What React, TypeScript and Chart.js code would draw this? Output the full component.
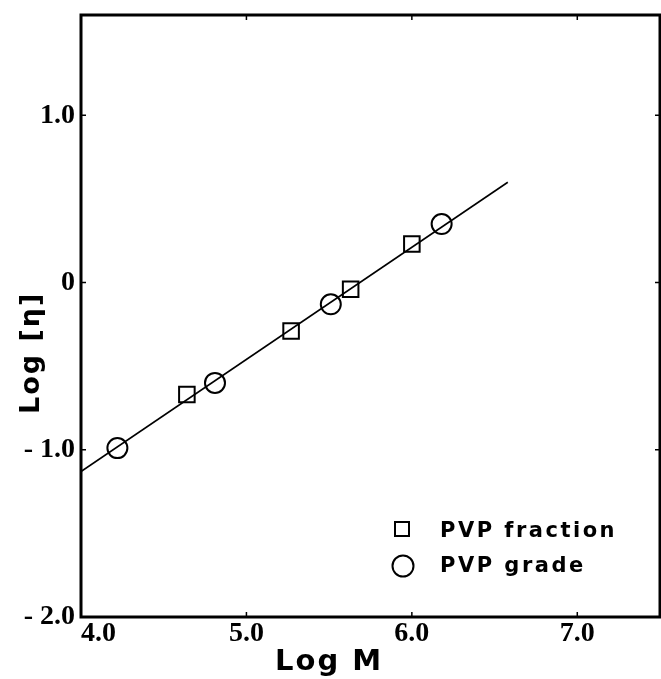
import { useEffect, useRef } from 'react';
import { Chart, registerables } from 'chart.js';

Chart.register(...registerables);

// Data
const fractionLogM = [4.64, 5.27, 5.63, 6.0];
const fractionLogEta = [-0.67, -0.29, -0.04, 0.23];
const gradeLogM = [4.22, 4.81, 5.51, 6.18];
const gradeLogEta = [-0.99, -0.6, -0.13, 0.35];
const fitLogM = [4.0, 6.58];
const fitLogEta = [-1.13, 0.6];

const xTicks = [4.0, 5.0, 6.0, 7.0];
const xTickLabels = ['4.0', '5.0', '6.0', '7.0'];
const yTicks = [-2, -1, 0, 1];
const yTickLabels = ['- 2.0', '- 1.0', '0', '1.0'];
const xRange = [4.0, 7.5];
const yRange = [-2.0, 1.6];

const xTitle = 'Log M';
const yTitle = 'Log [η]';
const legendLabels = ['PVP fraction', 'PVP grade'];

const toPts = (xs: number[], ys: number[]) => xs.map((x, i) => ({ x, y: ys[i] }));

const INK = '#000';
const TICK_FONT = 'bold 28px "Liberation Serif"';
const TITLE_FONT = 'bold 29px "DejaVu Sans"';
const YTITLE_FONT = 'bold 27px "DejaVu Sans"';
const LEGEND_FONT = 'bold 21px "DejaVu Sans"';

const zeroPadding = (scale: any) => {
  scale.paddingTop = 0;
  scale.paddingBottom = 0;
  scale.paddingLeft = 0;
  scale.paddingRight = 0;
};

const framePlugin = {
  id: 'frame',
  afterDatasetsDraw(chart: any) {
    const { ctx, chartArea, scales } = chart;
    const { left, right, top, bottom } = chartArea;
    ctx.save();
    ctx.strokeStyle = INK;
    ctx.fillStyle = INK;
    // inward tick marks
    ctx.lineWidth = 1.5;
    const tl = 5;
    ctx.beginPath();
    xTicks.forEach((v) => {
      const px = scales.x.getPixelForValue(v);
      ctx.moveTo(px, bottom);
      ctx.lineTo(px, bottom - tl);
      ctx.moveTo(px, top);
      ctx.lineTo(px, top + tl);
    });
    yTicks.forEach((v) => {
      const py = scales.y.getPixelForValue(v);
      ctx.moveTo(left, py);
      ctx.lineTo(left + tl, py);
      ctx.moveTo(right, py);
      ctx.lineTo(right - tl, py);
    });
    ctx.stroke();
    // frame
    ctx.lineWidth = 3;
    ctx.strokeRect(left, top, right - left, bottom - top);

    // x tick labels (first one sits inside, right of its tick)
    ctx.font = TICK_FONT;
    ctx.textBaseline = 'top';
    xTicks.forEach((v, i) => {
      const px = scales.x.getPixelForValue(v);
      ctx.textAlign = i === 0 ? 'left' : 'center';
      ctx.fillText(xTickLabels[i], px, bottom + 3);
    });

    // axis titles
    ctx.font = TITLE_FONT;
    (ctx as any).letterSpacing = '2px';
    ctx.textAlign = 'center';
    ctx.textBaseline = 'alphabetic';
    ctx.fillText(xTitle, scales.x.getPixelForValue(5.5), bottom + 53);
    ctx.font = YTITLE_FONT;
    ctx.save();
    ctx.translate(39, scales.y.getPixelForValue(-0.42));
    ctx.rotate(-Math.PI / 2);
    ctx.fillText(yTitle, 0, 0);
    ctx.restore();

    // legend
    ctx.font = LEGEND_FONT;
    (ctx as any).letterSpacing = '2.5px';
    ctx.textAlign = 'left';
    ctx.lineWidth = 2;
    const lx = left + 321;
    const ly1 = top + 514;
    const ly2 = top + 551;
    ctx.strokeRect(lx - 7, ly1 - 7, 14, 14);
    ctx.beginPath();
    ctx.arc(lx + 1, ly2, 10.5, 0, Math.PI * 2);
    ctx.stroke();
    ctx.fillText(legendLabels[0], lx + 38, ly1 + 8);
    ctx.fillText(legendLabels[1], lx + 38, ly2 + 6);
    ctx.restore();
  },
};

export default function App() {
  const ref = useRef<HTMLCanvasElement | null>(null);

  useEffect(() => {
    document.body.style.margin = '0';
    const canvas = ref.current;
    if (!canvas) return;
    const chart = new Chart(canvas, {
      type: 'scatter',
      data: {
        datasets: [
          {
            type: 'line',
            label: 'fit',
            data: toPts(fitLogM, fitLogEta),
            borderColor: INK,
            borderWidth: 1.6,
            pointRadius: 0,
            fill: false,
          } as any,
          {
            label: legendLabels[0],
            data: toPts(fractionLogM, fractionLogEta),
            pointStyle: 'rect',
            pointRadius: 11,
            pointBorderWidth: 2,
            pointBorderColor: INK,
            pointBackgroundColor: '#fff',
          },
          {
            label: legendLabels[1],
            data: toPts(gradeLogM, gradeLogEta),
            pointStyle: 'circle',
            pointRadius: 10,
            pointBorderWidth: 2,
            pointBorderColor: INK,
            pointBackgroundColor: '#fff',
          },
          {
            label: 'centres',
            data: [...toPts(fractionLogM, fractionLogEta), ...toPts(gradeLogM, gradeLogEta)],
            pointStyle: 'circle',
            pointRadius: 1.6,
            pointBorderWidth: 0,
            pointBackgroundColor: INK,
          },
        ],
      },
      options: {
        animation: false,
        responsive: false,
        maintainAspectRatio: false,
        layout: { autoPadding: false, padding: { top: 15, right: 1, left: 0, bottom: 0 } },
        plugins: {
          legend: { display: false },
          tooltip: { enabled: false },
        },
        scales: {
          x: {
            type: 'linear',
            min: xRange[0],
            max: xRange[1],
            grid: { display: false, drawTicks: false },
            border: { display: false },
            afterBuildTicks: (scale: any) => {
              scale.ticks = xTicks.map((value) => ({ value }));
            },
            afterFit: (scale: any) => {
              scale.height = 62;
              zeroPadding(scale);
            },
            ticks: { display: false },
          },
          y: {
            type: 'linear',
            min: yRange[0],
            max: yRange[1],
            grid: { display: false, drawTicks: false },
            border: { display: false },
            afterBuildTicks: (scale: any) => {
              scale.ticks = yTicks.map((value) => ({ value }));
            },
            afterFit: (scale: any) => {
              scale.width = 81;
              zeroPadding(scale);
            },
            ticks: {
              autoSkip: false,
              padding: 6,
              color: INK,
              font: { family: 'Liberation Serif', size: 28, weight: 'bold' },
              callback: (_v: any, i: number) => yTickLabels[i] ?? '',
            },
          },
        },
      },
      plugins: [framePlugin],
    });
    return () => chart.destroy();
  }, []);

  return (
    <div style={{ width: 661, height: 679, background: '#fff' }}>
      <canvas ref={ref} width={661} height={679} style={{ width: 661, height: 679, display: 'block' }} />
    </div>
  );
}
